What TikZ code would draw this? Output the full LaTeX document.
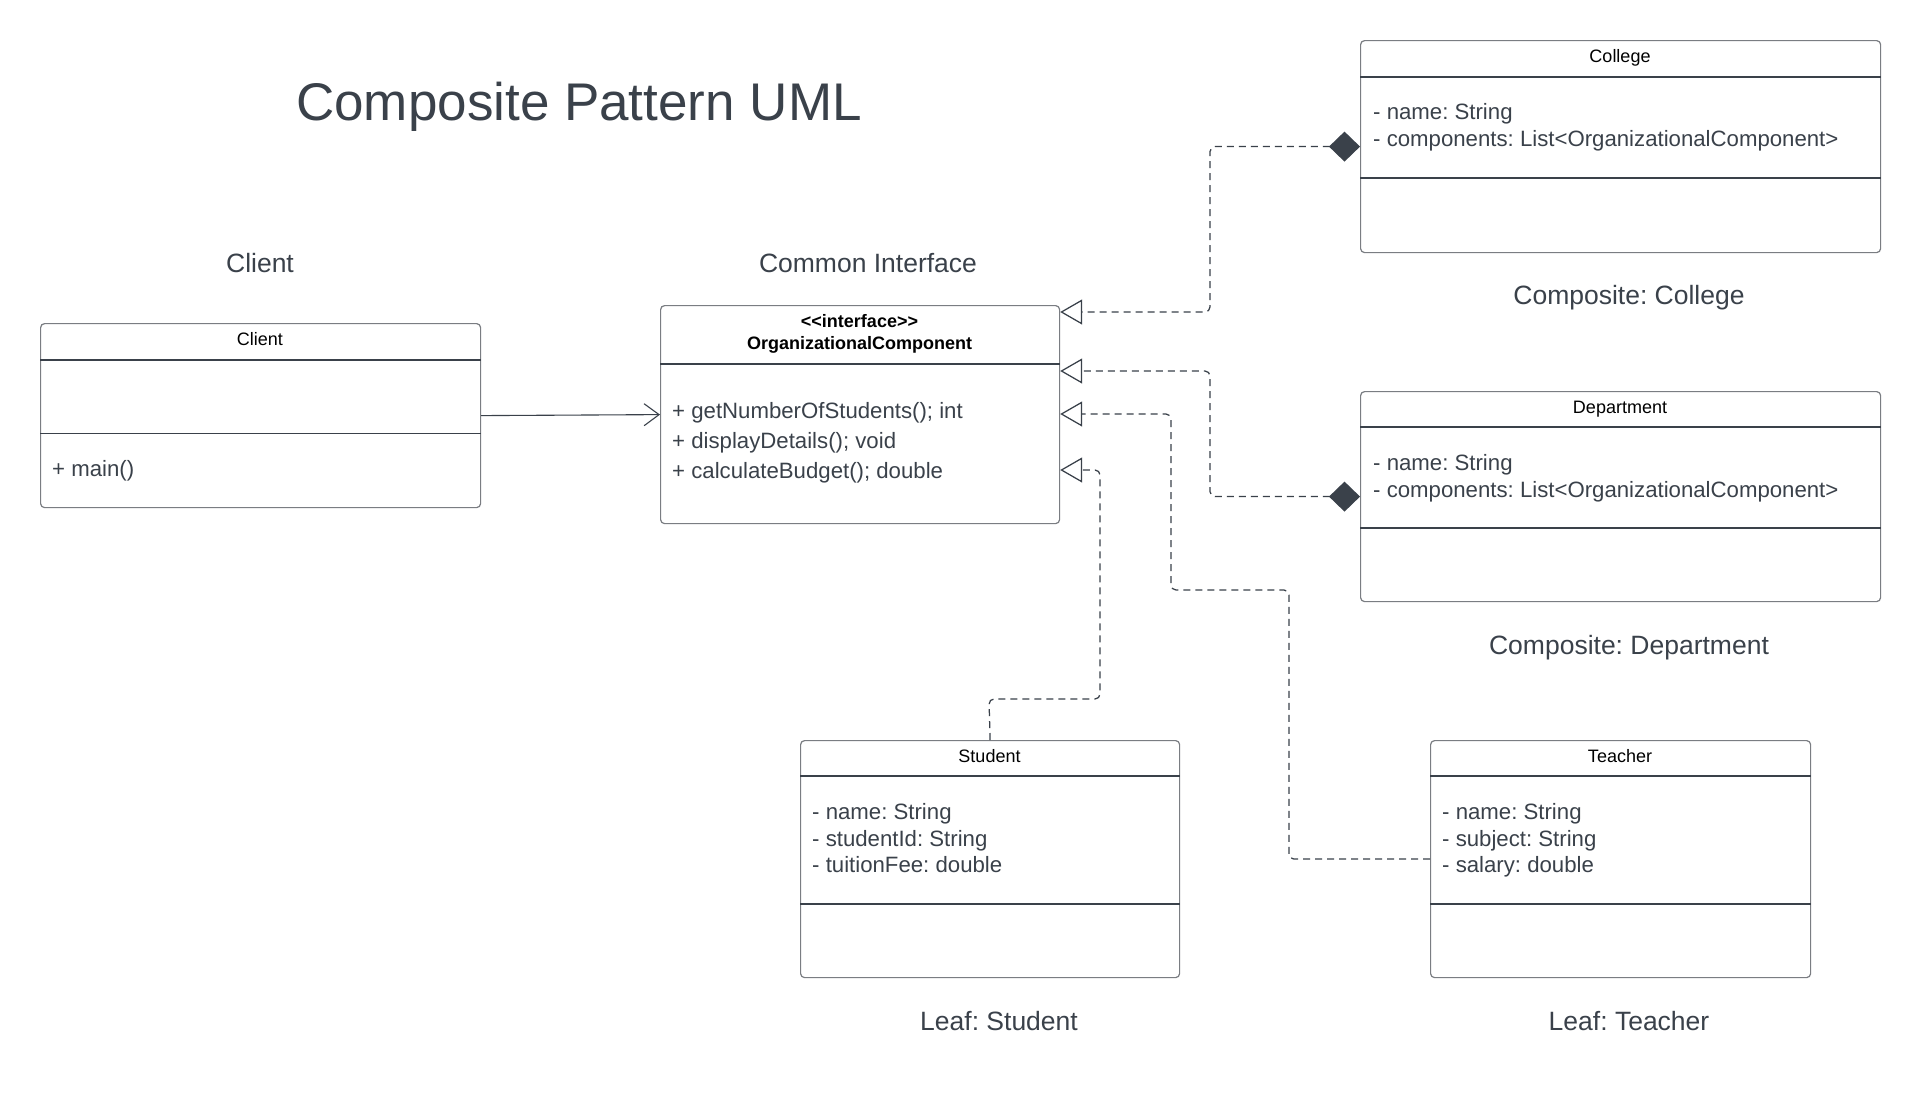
\documentclass[tikz,border=0pt]{standalone}
\usepackage{fontspec}
\setmainfont{Liberation Sans}
\usetikzlibrary{arrows.meta,calc}
\definecolor{ink}{HTML}{3A414A}
\definecolor{edge}{HTML}{7A7D82}
\frenchspacing
\begin{document}
\begin{tikzpicture}[x=1pt,y=-1pt,
  umlbox/.style={draw=edge, line width=1.2pt, rounded corners=4pt, fill=white, anchor=north west, inner sep=0pt},
  divider/.style={draw=ink, line width=1.1pt},
  hdr/.style={anchor=base, font=\fontsize{18}{22}\selectfont, text=black, inner sep=0pt},
  attr/.style={anchor=base west, font=\fontsize{22.2}{27}\selectfont, text=ink, inner sep=0pt},
  lbl/.style={anchor=base, font=\fontsize{26.5}{32}\selectfont, text=ink, inner sep=0pt},
  dep/.style={draw=ink, line width=1.25pt, dash pattern=on 7pt off 5pt, rounded corners=5pt},
  realize/.style={-{Triangle[open, length=22pt, width=25pt, fill=white, color=ink]}},
  compo/.style={{Diamond[length=31pt, width=30pt, color=ink, fill=ink]}-{Triangle[open, length=22pt, width=25pt, fill=white, color=ink]}},
  assoc/.style={draw=ink, line width=1.1pt, -{Straight Barb[length=15pt, width=22pt]}}
]
\useasboundingbox[fill=white] (0,0) rectangle (1920,1112);

% title and labels
\node[anchor=base west, font=\fontsize{53}{60}\selectfont, text=ink, inner sep=0pt] (title) at (296,120) {Composite Pattern UML};
\node[lbl] (lclient) at (260,272.5) {Client};
\node[lbl] (liface) at (868,272.5) {Common Interface};
\node[lbl] (lcollege) at (1629,304.5) {Composite: College};
\node[lbl] (ldept) at (1629,654.5) {Composite: Department};
\node[lbl] (lstudent) at (999,1030.5) {Leaf: Student};
\node[lbl] (lteacher) at (1629,1030.5) {Leaf: Teacher};

% Client
\node[umlbox, minimum width=440pt, minimum height=184pt] (client) at (40,323) {};
\draw[divider] (client.west |- 0,360) -- (client.east |- 0,360);
\draw[divider] (client.west |- 0,433.5) -- (client.east |- 0,433.5);
\node[hdr] (clienth) at (260,345.5) {Client};
\node[attr] (clientm) at (52,476) {+ main()};

% Interface
\node[umlbox, minimum width=399pt, minimum height=218pt] (iface) at (660,305) {};
\draw[divider] (iface.west |- 0,364) -- (iface.east |- 0,364);
\node[hdr, font=\fontsize{18}{22}\selectfont\bfseries] (ifaceh1) at (859.5,327.5) {<{}<interface>{}>};
\node[hdr, font=\fontsize{18}{22}\selectfont\bfseries] (ifaceh2) at (859.5,349.5) {OrganizationalComponent};
\node[attr] (ifm1) at (672,418) {+ getNumberOfStudents(); int};
\node[attr] (ifm2) at (672,448) {+ displayDetails(); void};
\node[attr] (ifm3) at (672,478) {+ calculateBudget(); double};

% College
\node[umlbox, minimum width=520pt, minimum height=212pt] (college) at (1360,40) {};
\draw[divider] (college.west |- 0,77) -- (college.east |- 0,77);
\draw[divider] (college.west |- 0,178) -- (college.east |- 0,178);
\node[hdr] (collegeh) at (1620,62.5) {College};
\node[attr] (cola1) at (1373,119) {- name: String};
\node[attr] (cola2) at (1373,146) {- components: List<OrganizationalComponent>};

% Department
\node[umlbox, minimum width=520pt, minimum height=210pt] (dept) at (1360,391) {};
\draw[divider] (dept.west |- 0,427) -- (dept.east |- 0,427);
\draw[divider] (dept.west |- 0,528) -- (dept.east |- 0,528);
\node[hdr] (depth) at (1620,413.5) {Department};
\node[attr] (depa1) at (1373,470) {- name: String};
\node[attr] (depa2) at (1373,497) {- components: List<OrganizationalComponent>};

% Student
\node[umlbox, minimum width=379pt, minimum height=237pt] (student) at (800,740) {};
\draw[divider] (student.west |- 0,776) -- (student.east |- 0,776);
\draw[divider] (student.west |- 0,904) -- (student.east |- 0,904);
\node[hdr] (studenth) at (989.5,762.5) {Student};
\node[attr] (sta1) at (812,819) {- name: String};
\node[attr] (sta2) at (812,846) {- studentId: String};
\node[attr] (sta3) at (812,872) {- tuitionFee: double};

% Teacher
\node[umlbox, minimum width=380pt, minimum height=237pt] (teacher) at (1430,740) {};
\draw[divider] (teacher.west |- 0,776) -- (teacher.east |- 0,776);
\draw[divider] (teacher.west |- 0,904) -- (teacher.east |- 0,904);
\node[hdr] (teacherh) at (1620,762.5) {Teacher};
\node[attr] (tea1) at (1442,819) {- name: String};
\node[attr] (tea2) at (1442,846) {- subject: String};
\node[attr] (tea3) at (1442,872) {- salary: double};

% connection points
\coordinate (p1) at ($(iface.north east)+(0,7)$);
\coordinate (p2) at ($(iface.north east)+(0,66)$);
\coordinate (p3) at ($(iface.north east)+(0,109)$);
\coordinate (p4) at ($(iface.north east)+(0,165)$);
\coordinate (b1) at (1210,312);
\coordinate (b2) at (1210,371);
\coordinate (b3a) at (1289,590);
\coordinate (b3b) at (1171,590);
\coordinate (b4a) at (989,699);
\coordinate (b4b) at (1100,699);

% connectors
\draw[assoc] (client.east) -- (iface.west);
\draw[dep, compo] (college.west) -| (b1) -- (p1);
\draw[dep, compo] (dept.west) -| (b2) -- (p2);
\draw[dep, realize] (teacher.west) -| (b3a) -- (b3b) |- (p3);
\draw[dep, realize] (student.north) -- (b4a) -- (b4b) |- (p4);
\end{tikzpicture}
\end{document}
